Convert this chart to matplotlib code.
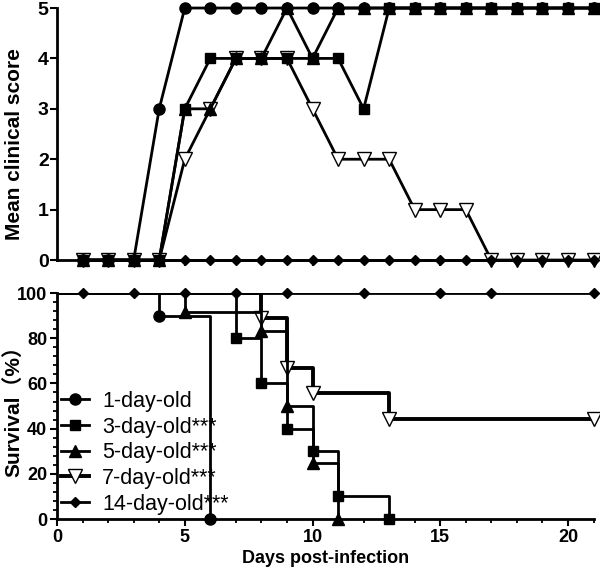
import numpy as np
import matplotlib
matplotlib.use('Agg')
import matplotlib.pyplot as plt
from matplotlib.ticker import MultipleLocator

plt.rcParams['font.family'] = ['Liberation Sans', 'Noto Sans CJK SC', 'DejaVu Sans']

# clinical scores, days 1..21
days = np.arange(1, 22)
score_1d = [0, 0, 0, 3, 5, 5, 5, 5, 5, 5, 5, 5, 5, 5, 5, 5, 5, 5, 5, 5, 5]
score_3d = [0, 0, 0, 0, 3, 4, 4, 4, 4, 4, 4, 3, 5, 5, 5, 5, 5, 5, 5, 5, 5]
score_5d = [0, 0, 0, 0, 3, 3, 4, 4, 5, 4, 5, 5, 5, 5, 5, 5, 5, 5, 5, 5, 5]
score_7d = [0, 0, 0, 0, 2, 3, 4, 4, 4, 3, 2, 2, 2, 1, 1, 1, 0, 0, 0, 0, 0]
score_14d = [0] * 21

# survival (Kaplan-Meier steps)
t_1d = [0, 4, 6];                 s_1d = [100, 90, 0]
t_3d = [0, 7, 8, 9, 10, 11, 13];  s_3d = [100, 80, 60, 40, 30, 10, 0]
t_5d = [0, 5, 8, 9, 10, 11];      s_5d = [100, 91.7, 83.3, 50, 25, 0]
t_7d = [0, 8, 9, 10, 13, 21];     s_7d = [100, 88.9, 66.7, 55.6, 44.4, 44.4]
t_14d = [0, 21];                  s_14d = [100, 100]
cens_14d = [1, 3, 5, 7, 9, 12, 15, 17, 21]

labels = ['1-day-old', '3-day-old***', '5-day-old***', '7-day-old***', '14-day-old***']

k = 'black'
LW = 2.0
sty = {
  '1d': dict(marker='o', ms=8, mfc=k, mec=k),
  '3d': dict(marker='s', ms=6.5, mfc=k, mec=k),
  '5d': dict(marker='^', ms=8.5, mfc=k, mec=k),
  '7d': dict(marker='v', ms=9.5, mfc='white', mec=k, mew=1),
  '14d': dict(marker='D', ms=5.5, mfc=k, mec=k),
}

fig = plt.figure(figsize=(6, 5.73), dpi=100)
ax1 = fig.add_axes([0.095, 0.5462, 0.8943, 0.4398])
ax2 = fig.add_axes([0.095, 0.0942, 0.8943, 0.3944])

# top panel
ax1.plot(days, score_7d, color=k, lw=LW, clip_on=False, zorder=2, **sty['7d'])
ax1.plot(days, score_1d, color=k, lw=LW, clip_on=False, zorder=3, **sty['1d'])
ax1.plot(days, score_3d, color=k, lw=LW, clip_on=False, zorder=4, **sty['3d'])
ax1.plot(days, score_5d, color=k, lw=LW, clip_on=False, zorder=5, **sty['5d'])
ax1.plot(days, score_14d, color=k, lw=LW, clip_on=False, zorder=6, **sty['14d'])

ax1.set_xlim(0, 21)
ax1.set_ylim(0, 5)
ax1.set_yticks(range(6))
ax1.set_xticks([5, 10, 15, 20])
ax1.set_xticklabels([])
ax1.tick_params(axis='x', length=4, width=1.5)
ax1.tick_params(axis='y', length=5, width=1.5, labelsize=14, pad=1)
ax1.set_ylabel('Mean clinical score', fontsize=15, fontweight='bold')
ax1.yaxis.set_label_coords(-0.062, 0.46)

# bottom panel
ax2.step(t_7d, s_7d, where='post', color=k, lw=2.8, zorder=2)
ax2.plot(t_7d[1:], s_7d[1:], ls='none', clip_on=False, zorder=2, **sty['7d'])
ax2.step(t_1d, s_1d, where='post', color=k, lw=LW, zorder=3)
ax2.plot(t_1d[1:], s_1d[1:], ls='none', clip_on=False, zorder=3, **sty['1d'])
ax2.step(t_3d, s_3d, where='post', color=k, lw=LW, zorder=4)
ax2.plot(t_3d[1:], s_3d[1:], ls='none', clip_on=False, zorder=4, **sty['3d'])
ax2.step(t_5d, s_5d, where='post', color=k, lw=LW, zorder=5)
ax2.plot(t_5d[1:], s_5d[1:], ls='none', clip_on=False, zorder=5, **sty['5d'])
ax2.step(t_14d, s_14d, where='post', color=k, lw=LW, zorder=6)
ax2.plot(cens_14d, [100] * len(cens_14d), ls='none', clip_on=False, zorder=6, **sty['14d'])

# legend handles
handles = []
for key, lw in zip(['1d', '3d', '5d', '7d', '14d'], [LW, LW, LW, 2.8, LW]):
  h, = ax2.plot([], [], color=k, lw=lw, **sty[key])
  handles.append(h)
ax2.legend(handles, labels, loc='lower left', bbox_to_anchor=(0.0, 0.0), frameon=False,
           fontsize=15.5, handlelength=1.3, handletextpad=0.6, labelspacing=0.22,
           borderaxespad=0.1, borderpad=0.1)

ax2.set_xlim(0, 21)
ax2.set_ylim(0, 100)
ax2.xaxis.set_major_locator(MultipleLocator(5))
ax2.xaxis.set_minor_locator(MultipleLocator(1))
ax2.yaxis.set_major_locator(MultipleLocator(20))
ax2.yaxis.set_minor_locator(MultipleLocator(4))
ax2.tick_params(which='major', length=5, width=1.5, labelsize=13, pad=2)
ax2.tick_params(which='minor', length=3, width=1.3)
ax2.set_xlabel('Days post-infection', fontsize=13, fontweight='bold', labelpad=3)
ax2.set_ylabel('Survival（%）', fontsize=15, fontweight='bold')
ax2.yaxis.set_label_coords(-0.062, 0.5)

for ax in (ax1, ax2):
  ax.spines['top'].set_visible(False)
  ax.spines['right'].set_visible(False)
  ax.spines['left'].set_linewidth(LW)
  ax.spines['bottom'].set_linewidth(LW)
  for t in ax.get_xticklabels() + ax.get_yticklabels():
    t.set_fontweight('bold')

fig.savefig('out.png', dpi=100)
